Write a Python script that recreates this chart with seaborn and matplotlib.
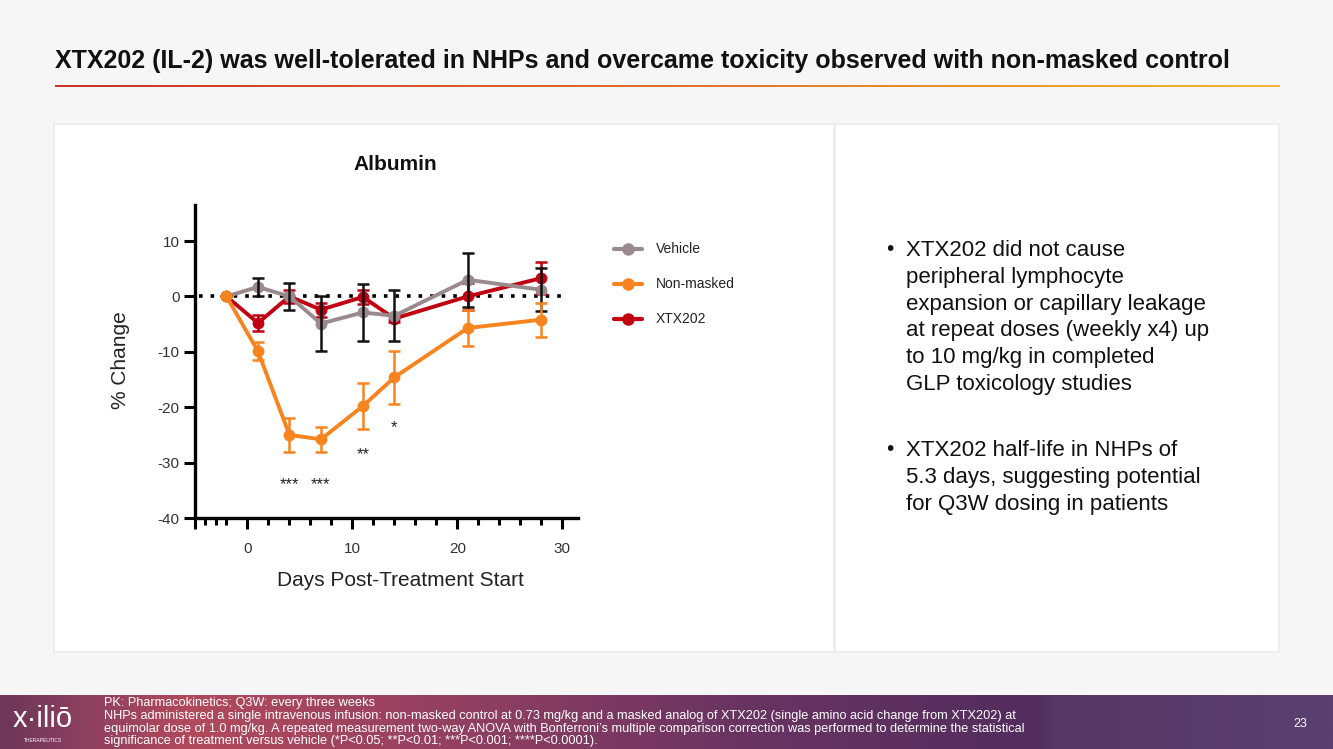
import numpy as np
import pandas as pd
import matplotlib
matplotlib.use("Agg")
import matplotlib.pyplot as plt
from matplotlib.colors import LinearSegmentedColormap
from matplotlib.patches import Rectangle
from matplotlib.lines import Line2D
import seaborn as sns

# ---------------- data ----------------
days = [-2, 1, 4, 7, 11, 14, 21, 28]
vehicle = [0, 1.7, 0.0, -4.9, -2.9, -3.5, 3.0, 1.2]
vehicle_err = [0, 1.7, 2.4, 5.0, 5.1, 4.6, 4.9, 3.9]
nonmasked = [0, -9.9, -25.0, -25.8, -19.8, -14.6, -5.7, -4.2]
nonmasked_err = [0, 1.6, 3.1, 2.2, 4.2, 4.8, 3.3, 3.1]
xtx202 = [0, -4.8, 0.0, -2.4, -0.1, -4.0, 0.0, 3.3]
xtx202_err = [0, 1.4, 1.1, 1.3, 1.2, 0.6, 2.4, 2.9]
star_days = [4, 7, 11, 14]
star_labels = ["***", "***", "**", "*"]
star_y = [-34.0, -34.0, -28.6, -23.7]
series_names = ["Vehicle", "Non-masked", "XTX202"]
colors = {"Vehicle": "#9a8a8e", "Non-masked": "#f7841f", "XTX202": "#c00010"}
err_colors = {"Vehicle": "#111111", "Non-masked": "#f7841f", "XTX202": "#c00010"}

title = "XTX202 (IL-2) was well-tolerated in NHPs and overcame toxicity observed with non-masked control"
bullet1 = ["XTX202 did not cause", "peripheral lymphocyte", "expansion or capillary leakage",
           "at repeat doses (weekly x4) up", "to 10 mg/kg in completed", "GLP toxicology studies"]
bullet2 = ["XTX202 half-life in NHPs of", "5.3 days, suggesting potential", "for Q3W dosing in patients"]
footer_lines = [
    "PK: Pharmacokinetics; Q3W: every three weeks",
    "NHPs administered a single intravenous infusion: non-masked control at 0.73 mg/kg and a masked analog of XTX202 (single amino acid change from XTX202) at",
    "equimolar dose of 1.0 mg/kg. A repeated measurement two-way ANOVA with Bonferroni\u2019s multiple comparison correction was performed to determine the statistical",
    "significance of treatment versus vehicle (*P<0.05; **P<0.01; ***P<0.001; ****P<0.0001).",
]

df = pd.DataFrame({
    "day": days * 3,
    "value": vehicle + nonmasked + xtx202,
    "err": vehicle_err + nonmasked_err + xtx202_err,
    "group": ["Vehicle"] * len(days) + ["Non-masked"] * len(days) + ["XTX202"] * len(days),
})

# ---------------- figure ----------------
sns.set_theme(style="white")
plt.rcParams["font.family"] = ["Liberation Sans", "DejaVu Sans"]
W, H = 1333, 749
fig = plt.figure(figsize=(W / 100, H / 100), dpi=100, facecolor="#f6f6f6")

def fx(x): return x / W
def fy(y): return 1 - y / H

# panels
for (x0, x1) in [(55, 833), (836, 1278)]:
    fig.patches.append(Rectangle((fx(x0 - 2), fy(653)), fx(x1 - x0 + 4), (653 - 123) / H,
                                 transform=fig.transFigure, facecolor="#ededed", edgecolor="none", zorder=-2))
    fig.patches.append(Rectangle((fx(x0), fy(651)), fx(x1 - x0), (651 - 125) / H,
                                 transform=fig.transFigure, facecolor="white", edgecolor="none", zorder=-1))

# title + gradient rule
fig.text(fx(55), fy(61), title, fontsize=18, fontweight="bold", color="#111111", va="center", ha="left")
rule_ax = fig.add_axes([fx(55), fy(87), fx(1280 - 55), 2 / H])
rule_cmap = LinearSegmentedColormap.from_list("rule", ["#c8322a", "#e0702a", "#f0b83a"])
rule_ax.imshow(np.linspace(0, 1, 256)[None, :], aspect="auto", cmap=rule_cmap)
rule_ax.axis("off")

# footer band
foot_ax = fig.add_axes([0, 0, 1, 54 / H])
foot_cmap = LinearSegmentedColormap.from_list("foot", [
    (0.0, "#6e3659"), (0.06, "#8c3f5f"), (0.14, "#b2495c"), (0.3, "#9a4260"),
    (0.55, "#6a3462"), (0.78, "#522d5e"), (0.79, "#553764"), (1.0, "#5a3f70")])
foot_ax.imshow(np.linspace(0, 1, 512)[None, :], aspect="auto", cmap=foot_cmap)
foot_ax.axis("off")
for line, yy in zip(footer_lines, [703, 716, 729, 741]):
    fig.text(fx(104), fy(yy), line, fontsize=9.2, color="white", va="center", ha="left")
fig.text(fx(1300), fy(724), "23", fontsize=9, color="white", va="center", ha="center")
fig.text(fx(43), fy(719), "x\u00b7ili\u014d", fontsize=21, color="white", va="center", ha="center")
fig.text(fx(43), fy(741), "THERAPEUTICS", fontsize=3.6, color="white", va="center", ha="center")

# ---------------- chart ----------------
ax = fig.add_axes([fx(195), fy(518), fx(578 - 195), (518 - 205) / H])
ax.set_zorder(5)
ax.set_facecolor("none")
ax.axhline(0, xmin=0.01, xmax=0.97, color="black", linestyle=(0, (1, 2.2)), linewidth=2.6, zorder=1)

order = ["XTX202", "Vehicle", "Non-masked"]
for i, name in enumerate(order):
    sub = df[df["group"] == name]
    z = 3 + i * 2
    sns.lineplot(data=sub, x="day", y="value", ax=ax, color=colors[name], linewidth=2.8,
                 marker="o", markersize=8.5, markeredgewidth=0, legend=False, errorbar=None,
                 zorder=z, sort=False)
    ax.errorbar(sub["day"], sub["value"], yerr=sub["err"], fmt="none", ecolor=err_colors[name],
                elinewidth=1.8, capsize=4, capthick=1.8, zorder=z + 1)

for d, lab, yv in zip(star_days, star_labels, star_y):
    ax.text(d, yv, lab, ha="center", va="center", fontsize=12, color="#222222")

ax.set_xlim(-5, 31.5)
ax.set_ylim(-40, 16.5)
ax.set_xticks([-5, 0, 10, 20, 30])
ax.set_xticklabels(["", "0", "10", "20", "30"])
ax.set_xticks([-4, -3, -2] + [d for d in range(2, 30, 2) if d % 10 != 0], minor=True)
ax.set_yticks([-40, -30, -20, -10, 0, 10])
ax.set_yticklabels(["-40", "-30", "-20", "-10", "0", "10"])
for s in ["top", "right"]:
    ax.spines[s].set_visible(False)
for s in ["left", "bottom"]:
    ax.spines[s].set_linewidth(2.4)
    ax.spines[s].set_color("black")
ax.tick_params(axis="both", which="major", direction="out", length=8, width=2.2, color="black",
               labelsize=11, labelcolor="#333333", left=True, bottom=True)
ax.tick_params(axis="y", which="major", pad=3)
ax.tick_params(axis="x", which="major", pad=9)
ax.tick_params(axis="x", which="minor", direction="out", length=5, width=2.2, color="black", bottom=True)
ax.set_xlabel("")
ax.set_ylabel("")

fig.text(fx(395), fy(165), "Albumin", fontsize=15, fontweight="bold", color="#111111", ha="center", va="center")
fig.text(fx(120), fy(360), "% Change", fontsize=15, color="#222222", ha="center", va="center", rotation=90)
fig.text(fx(400), fy(581), "Days Post-Treatment Start", fontsize=15, color="#222222", ha="center", va="center")

# legend (figure level)
for name, yy in zip(series_names, [249, 284, 319]):
    fig.lines.append(Line2D([fx(614), fx(642)], [fy(yy), fy(yy)], transform=fig.transFigure,
                            color=colors[name], linewidth=3, zorder=6))
    fig.lines.append(Line2D([fx(628)], [fy(yy)], transform=fig.transFigure, color=colors[name],
                            marker="o", markersize=9, markeredgewidth=0, linestyle="none", zorder=6))
    fig.text(fx(656), fy(yy), name, fontsize=10, color="#222222", va="center", ha="left")

# bullets
for lines, ys in [(bullet1, [248, 275, 302, 328, 355, 382]), (bullet2, [448, 475, 502])]:
    fig.text(fx(886), fy(ys[0] + 7), "\u2022", fontsize=15, color="#111111", va="baseline", ha="left")
    for line, yy in zip(lines, ys):
        fig.text(fx(906), fy(yy + 8), line, fontsize=16, color="#111111", va="baseline", ha="left")

fig.savefig("out.png", dpi=100, facecolor=fig.get_facecolor())
